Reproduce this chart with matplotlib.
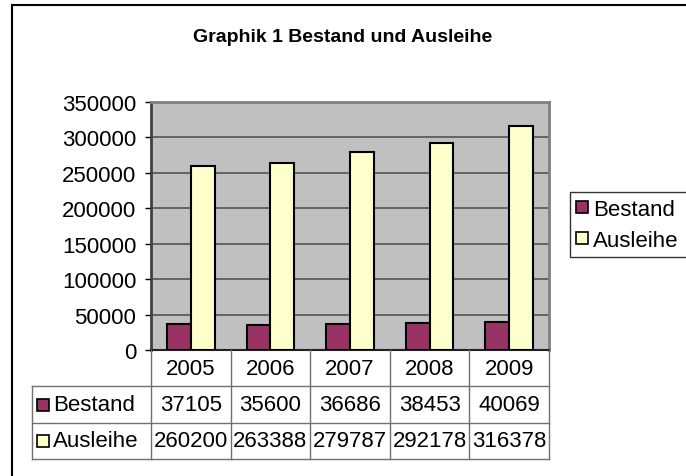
import matplotlib
matplotlib.use("Agg")
import matplotlib.pyplot as plt
import numpy as np
from matplotlib.lines import Line2D

plt.rcParams['font.family'] = ['Liberation Sans', 'DejaVu Sans']

years = ["2005", "2006", "2007", "2008", "2009"]
bestand = [37105, 35600, 36686, 38453, 40069]
ausleihe = [260200, 263388, 279787, 292178, 316378]
series_names = ["Bestand", "Ausleihe"]
yticks = [0, 50000, 100000, 150000, 200000, 250000, 300000, 350000]

col_bestand = "#993366"
col_ausleihe = "#FFFFCC"

W, H = 686, 477
fig = plt.figure(figsize=(W / 100, H / 100), dpi=100)

def px(x0, y0, x1, y1):
    # pixel box (top-left origin) -> figure fraction rect
    return [x0 / W, 1 - y1 / H, (x1 - x0) / W, (y1 - y0) / H]

# outer chart border (clipped at right and bottom)
fig.add_artist(Line2D([12 / W, 1], [1 - 6 / H, 1 - 6 / H], color="black", lw=1.5, transform=fig.transFigure))
fig.add_artist(Line2D([12 / W, 12 / W], [0, 1 - 6 / H], color="black", lw=1.5, transform=fig.transFigure))

fig.text(343 / W, 1 - 38 / H, "Graphik 1 Bestand und Ausleihe", ha="center", va="center",
         fontsize=14, fontweight="bold")

# plot area
ax = fig.add_axes(px(151, 103, 549, 351))
ax.set_facecolor("#C0C0C0")
x = np.arange(len(years))
bw = 0.3
ax.bar(x - bw / 2, bestand, bw, color=col_bestand, edgecolor="black", linewidth=1.5, zorder=3)
ax.bar(x + bw / 2, ausleihe, bw, color=col_ausleihe, edgecolor="black", linewidth=1.5, zorder=3)
ax.set_xlim(-0.5, len(years) - 0.5)
ax.set_ylim(0, 350000)
ax.set_yticks(yticks)
ax.set_yticklabels([str(v) for v in yticks], fontsize=16)
ax.set_xticks([])
ax.tick_params(axis="y", direction="out", length=4.5, width=1, pad=6, color="black")
for v in yticks[1:-1]:
    ax.axhline(v, color="#555555", lw=1.2, zorder=1)
for s in ["top", "right"]:
    ax.spines[s].set_color("#808080")
    ax.spines[s].set_linewidth(2)
ax.spines["left"].set_color("#404040")
ax.spines["left"].set_linewidth(2)
ax.spines["bottom"].set_color("#202020")
ax.spines["bottom"].set_linewidth(1.5)

# data table below the plot
colw = (549 - 151) / len(years)
xl = -0.5 - (151 - 32) / colw
axt = fig.add_axes(px(32, 351, 549, 460))
axt.set_xlim(xl, len(years) - 0.5)
axt.set_ylim(3, 0)
axt.axis("off")
lc = "#707070"
for r in [1, 2, 3]:
    axt.plot([xl, len(years) - 0.5], [r, r], color=lc, lw=1, clip_on=False)
for c in range(len(years) + 1):
    axt.plot([c - 0.5, c - 0.5], [0, 3], color=lc, lw=1, clip_on=False)
axt.plot([xl, xl], [1, 3], color=lc, lw=1, clip_on=False)

for i, yr in enumerate(years):
    axt.text(i, 0.5, yr, ha="center", va="center", fontsize=16)
    axt.text(i, 1.5, str(bestand[i]), ha="center", va="center", fontsize=16)
    axt.text(i, 2.5, str(ausleihe[i]), ha="center", va="center", fontsize=16)

for r, (name, col) in enumerate(zip(series_names, [col_bestand, col_ausleihe])):
    axt.plot([xl + 11 / colw], [r + 1.5], marker="s", ms=8, mfc=col, mec="black", mew=1.2,
             ls="none", clip_on=False)
    axt.text(xl + 21 / colw, r + 1.5, name, ha="left", va="center", fontsize=16)

# legend (box runs past the right edge of the picture)
handles = [Line2D([], [], marker="s", ls="none", ms=8, mfc=c, mec="black", mew=1.2, label=n)
           for n, c in zip(series_names, [col_bestand, col_ausleihe])]
leg = fig.legend(handles=handles, loc="upper left", bbox_to_anchor=px(570, 193, 760, 261),
                 mode="expand", borderaxespad=0, fontsize=16, frameon=True, fancybox=False,
                 handlelength=0.5, handletextpad=0.25, borderpad=0.3, labelspacing=0.45)
leg.get_frame().set_edgecolor("black")
leg.get_frame().set_linewidth(1)

fig.savefig("out.png", dpi=100)
